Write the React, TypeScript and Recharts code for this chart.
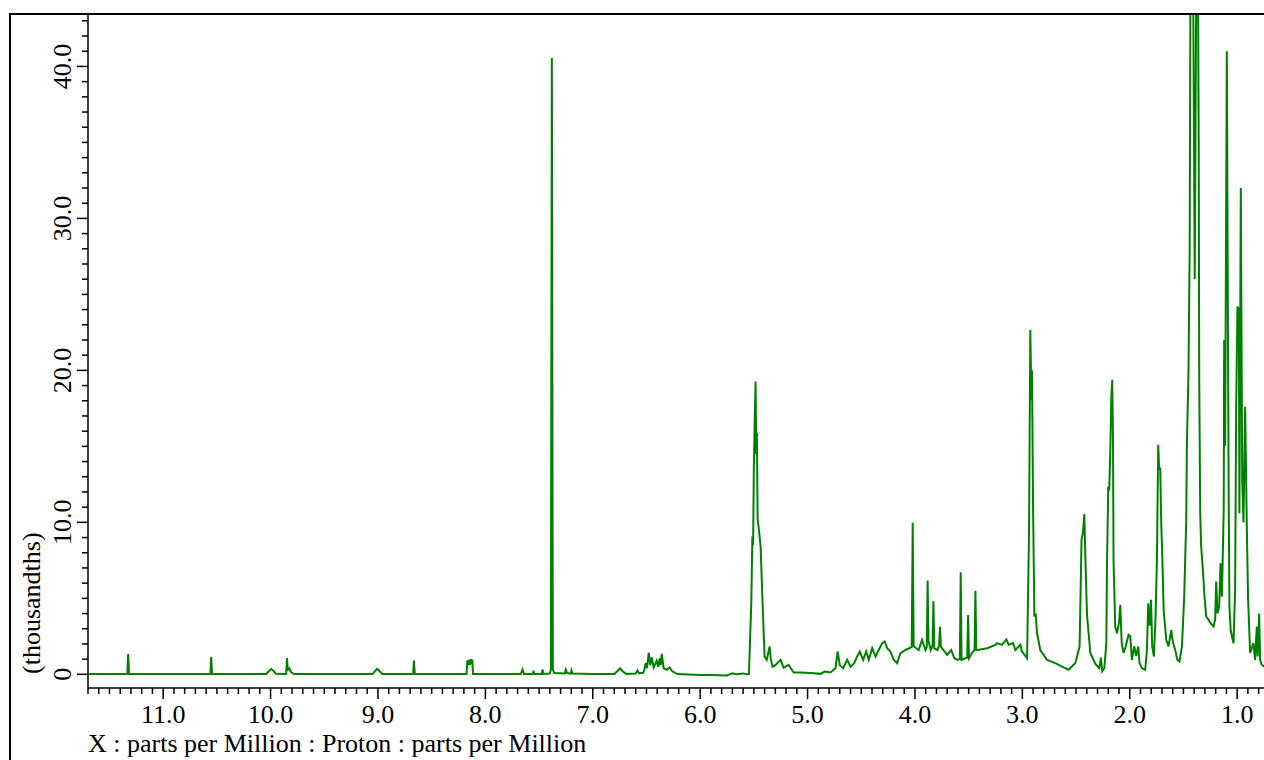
import { LineChart, Line, XAxis, YAxis } from 'recharts';

// chemical shift (ppm) / intensity (thousandths) pairs
const downfield: [number, number][] = [
  [11.69, 0.02],
  [11.334, 0.02], [11.326, 1.33], [11.318, 0.02],
  [10.561, 0.02], [10.553, 1.13], [10.545, 0.02],
  [10.04, 0.02], [10.01, 0.25], [9.995, 0.35], [9.975, 0.25], [9.95, 0.03],
  [9.855, 0.02], [9.847, 1.07], [9.84, 0.3], [9.825, 0.4], [9.81, 0.15], [9.78, 0.02],
  [9.05, 0.02], [9.02, 0.28], [9.009, 0.36], [8.99, 0.25], [8.96, 0.02],
  [8.673, 0.02], [8.665, 0.91], [8.657, 0.02],
  [8.175, 0.02], [8.168, 0.92], [8.16, 0.6], [8.152, 0.95], [8.144, 0.6], [8.136, 1.0], [8.128, 0.7], [8.122, 0.97], [8.115, 0.02],
  [7.67, 0.02], [7.654, 0.32], [7.64, 0.02],
  [7.56, 0.02], [7.552, 0.23], [7.545, 0.02],
  [7.476, 0.02], [7.468, 0.32], [7.46, 0.02],
  [7.4, 0.05], [7.39, 0.3], [7.381, 40.56], [7.372, 0.35], [7.36, 0.08],
  [7.26, 0.05], [7.251, 0.3], [7.24, 0.08], [7.205, 0.05], [7.198, 0.25], [7.19, 0.05],
  [7.0, 0.02],
];

const aromatic: [number, number][] = [
  [6.8, 0.02], [6.765, 0.25], [6.746, 0.4], [6.725, 0.22], [6.69, 0.03],
  [6.6, 0.05], [6.584, 0.25], [6.57, 0.08],
  [6.53, 0.1], [6.52, 0.3], [6.507, 0.74], [6.495, 0.4], [6.479, 1.43], [6.465, 0.6], [6.451, 1.13],
  [6.433, 0.45], [6.405, 0.89], [6.39, 0.5], [6.377, 1.04], [6.368, 0.6], [6.358, 1.35], [6.34, 0.4],
  [6.31, 0.3], [6.284, 0.45], [6.26, 0.2], [6.21, 0.02],
  [6.0, -0.05], [5.9, -0.05], [5.75, -0.08], [5.7, 0.06], [5.66, 0.0], [5.6, 0.06], [5.57, 0.0],
];

const olefinic: [number, number][] = [
  [5.546, 0.02], [5.524, 4.7], [5.514, 9.07], [5.507, 8.5], [5.5, 13.7], [5.49, 17.4], [5.484, 19.26],
  [5.478, 14.5], [5.472, 15.9], [5.465, 10.2], [5.456, 9.7], [5.437, 8.4], [5.419, 4.7], [5.4, 1.17],
  [5.381, 0.95], [5.353, 1.83], [5.344, 1.08], [5.326, 0.5], [5.3, 0.6], [5.251, 0.95], [5.223, 0.43],
  [5.177, 0.63], [5.13, 0.12], [5.065, 0.12], [4.972, 0.08], [4.879, 0.03], [4.842, 0.18], [4.786, 0.12],
];

const midfield: [number, number][] = [
  [4.74, 0.4], [4.72, 1.5], [4.7, 0.6], [4.668, 0.4], [4.631, 0.95], [4.6, 0.5], [4.569, 0.7],
  [4.538, 1.17], [4.514, 1.5], [4.482, 0.95], [4.454, 1.5], [4.43, 0.95], [4.398, 1.72], [4.367, 1.17],
  [4.337, 1.6], [4.305, 2.05], [4.281, 2.16], [4.259, 1.72], [4.228, 1.5], [4.197, 0.95], [4.166, 0.74],
  [4.135, 1.4], [4.088, 1.6], [4.058, 1.7], [4.03, 1.8], [4.021, 9.98], [4.012, 1.85], [3.965, 1.6],
  [3.934, 2.27], [3.902, 1.6], [3.89, 1.8], [3.882, 6.17], [3.874, 2.2], [3.853, 1.6], [3.836, 1.9],
  [3.828, 4.8], [3.82, 1.7], [3.791, 1.6], [3.775, 1.9], [3.767, 3.12], [3.758, 1.8], [3.7, 1.28],
  [3.663, 1.6], [3.633, 1.06], [3.602, 0.95], [3.582, 1.0], [3.574, 6.72], [3.566, 0.95], [3.53, 1.06],
  [3.513, 1.1], [3.505, 3.9], [3.497, 1.06], [3.459, 1.5], [3.445, 1.6], [3.437, 5.5], [3.429, 1.6],
  [3.416, 1.6], [3.328, 1.72], [3.251, 1.94], [3.235, 2.05], [3.189, 1.94], [3.149, 2.3], [3.127, 1.94],
  [3.087, 2.05], [3.065, 1.6], [3.019, 1.94], [3.003, 1.5], [2.956, 1.06], [2.938, 9.3], [2.926, 22.66],
  [2.916, 18.06], [2.91, 20.0], [2.901, 11.5], [2.888, 3.8], [2.876, 4.0], [2.863, 2.7], [2.833, 1.6],
  [2.77, 0.95], [2.693, 0.74], [2.631, 0.5], [2.569, 0.3], [2.507, 0.74], [2.467, 1.83], [2.449, 8.85],
  [2.436, 9.3], [2.423, 10.54], [2.411, 7.1], [2.398, 3.9], [2.367, 1.4], [2.321, 0.7], [2.284, 0.4],
  [2.268, 1.1], [2.256, 0.2], [2.237, 0.4],
];

const aliphatic: [number, number][] = [
  [2.218, 2.05], [2.212, 7.2], [2.2, 12.36], [2.191, 12.1], [2.181, 14.77], [2.172, 18.06], [2.163, 19.38],
  [2.156, 15.4], [2.151, 7.5], [2.135, 3.1], [2.119, 2.7], [2.1, 3.4], [2.088, 4.57], [2.075, 2.05],
  [2.057, 1.4], [2.038, 1.83], [2.011, 2.6], [1.995, 2.5], [1.98, 0.95], [1.958, 1.83], [1.94, 1.2],
  [1.921, 1.83], [1.909, 0.74], [1.886, 0.4], [1.856, 0.3], [1.84, 1.6], [1.828, 4.68], [1.815, 3.2],
  [1.802, 4.9], [1.791, 1.83], [1.775, 1.17], [1.76, 3.7], [1.747, 7.5], [1.735, 15.1], [1.726, 13.45],
  [1.716, 13.6], [1.707, 10.0], [1.698, 8.0], [1.684, 4.2], [1.66, 2.27], [1.639, 1.83], [1.614, 2.9],
  [1.598, 2.1], [1.577, 1.6], [1.556, 0.95], [1.537, 0.84], [1.514, 1.83], [1.493, 5.1], [1.474, 10.16],
  [1.468, 15.0], [1.453, 20.0], [1.442, 28.0], [1.433, 50.0], [1.423, 60.0], [1.409, 45.0], [1.395, 26.0],
  [1.381, 45.0], [1.372, 58.0], [1.358, 35.0], [1.353, 19.4], [1.344, 10.6], [1.335, 8.4], [1.319, 6.9],
  [1.304, 5.1], [1.288, 3.8], [1.267, 3.6], [1.251, 3.4], [1.22, 3.15], [1.205, 3.6], [1.195, 6.1],
  [1.183, 4.0], [1.167, 4.46], [1.155, 7.3], [1.142, 5.1], [1.13, 9.1], [1.125, 11.0], [1.121, 22.0],
  [1.112, 15.0], [1.096, 41.0], [1.086, 22.9], [1.079, 12.0], [1.072, 4.46], [1.06, 2.9], [1.034, 2.05],
  [1.019, 5.5], [1.009, 17.6], [0.997, 24.2], [0.984, 24.0], [0.979, 10.6], [0.966, 32.0], [0.953, 12.8],
  [0.941, 10.0], [0.926, 17.6], [0.91, 9.7], [0.898, 4.9], [0.879, 1.4], [0.849, 2.05], [0.833, 0.95],
  [0.817, 3.15], [0.809, 1.17], [0.795, 4.0], [0.786, 0.95], [0.77, 0.63], [0.749, 0.5],
];

const xMajor = [11, 10, 9, 8, 7, 6, 5, 4, 3, 2, 1];
const yMajor = [0, 10, 20, 30, 40];
const xTicks = Array.from({ length: 110 }, (_, i) => Math.round((0.8 + i * 0.1) * 10) / 10);
const yTicks = Array.from({ length: 44 }, (_, i) => i);

const FONT = '"Liberation Serif", "Times New Roman", serif';

const data = [...downfield, ...aromatic, ...olefinic, ...midfield, ...aliphatic].map(([ppm, value]) => ({
  ppm,
  value,
}));

function XTick(props: any) {
  const { x, y, payload } = props;
  const v = payload.value;
  const major = xMajor.some(m => Math.abs(m - v) < 1e-6);
  return (
    <g>
      <line x1={x} y1={y} x2={x} y2={y + (major ? 11 : 6)} stroke="#000" strokeWidth={1.5} />
      {major && (
        <text x={x} y={y + 35} textAnchor="middle" fontFamily={FONT} fontSize={26} fill="#000">
          {v.toFixed(1)}
        </text>
      )}
    </g>
  );
}

function YTick(props: any) {
  const { x, y, payload } = props;
  const v = payload.value;
  const major = yMajor.includes(v);
  return (
    <g>
      <line x1={x - (major ? 11 : 6)} y1={y} x2={x} y2={y} stroke="#000" strokeWidth={1.5} />
      {major && (
        <text
          x={x - 17}
          y={y}
          transform={`rotate(-90, ${x - 17}, ${y})`}
          textAnchor="middle"
          fontFamily={FONT}
          fontSize={26}
          fill="#000"
        >
          {v === 0 ? '0' : v.toFixed(1)}
        </text>
      )}
    </g>
  );
}

export default function App() {
  return (
    <div style={{ position: 'absolute', left: 0, top: 0, width: 1264, height: 760, background: '#fff' }}>
      <LineChart width={1264} height={760} data={data} margin={{ top: 14, right: 0, bottom: 0, left: 0 }}>
        <XAxis
          dataKey="ppm"
          type="number"
          domain={[0.75, 11.7]}
          reversed
          allowDataOverflow
          ticks={xTicks}
          interval={0}
          tickSize={0}
          tickMargin={0}
          tickLine={false}
          tick={(p: any) => <XTick {...p} />}
          axisLine={{ stroke: '#000', strokeWidth: 1.5 }}
          height={72}
          label={() => (
            <text x={88} y={752} fontFamily={FONT} fontSize={26} fill="#000">
              X : parts per Million : Proton : parts per Million
            </text>
          )}
        />
        <YAxis
          type="number"
          domain={[-0.9, 43.45]}
          allowDataOverflow
          ticks={yTicks}
          interval={0}
          tickSize={0}
          tickMargin={0}
          tickLine={false}
          tick={(p: any) => <YTick {...p} />}
          axisLine={{ stroke: '#000', strokeWidth: 1.5 }}
          width={88}
          label={() => (
            <text x={40} y={674} transform="rotate(-90, 40, 674)" fontFamily={FONT} fontSize={26} fill="#000">
              (thousandths)
            </text>
          )}
        />
        <Line
          type="linear"
          dataKey="value"
          stroke="#008000"
          strokeWidth={2}
          dot={false}
          isAnimationActive={false}
        />
      </LineChart>
      <div
        style={{
          position: 'absolute',
          left: 9,
          top: 13,
          width: 1255,
          height: 747,
          borderLeft: '2px solid #000',
          borderTop: '2px solid #000',
          boxSizing: 'border-box',
          pointerEvents: 'none',
        }}
      />
    </div>
  );
}
